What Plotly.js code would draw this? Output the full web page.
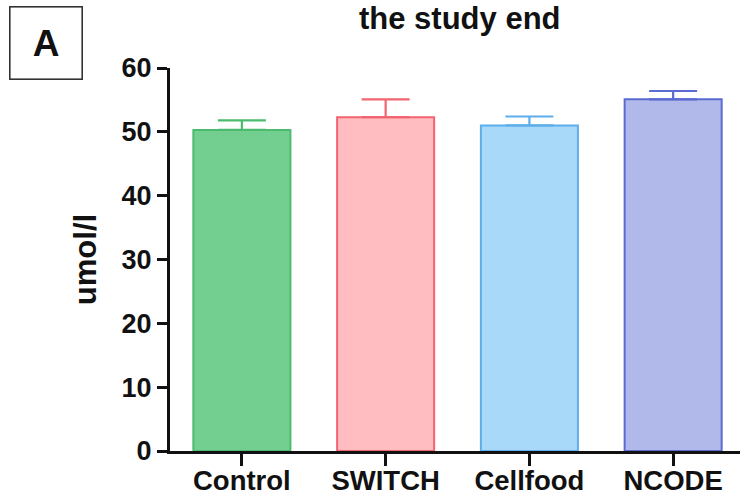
<!DOCTYPE html>
<html>
<head>
<meta charset="utf-8">
<script src="https://cdn.plot.ly/plotly-3.0.1.min.js"></script>
<style>html,body{margin:0;padding:0;background:#fff;}#chart{width:740px;height:498px;}</style>
</head>
<body>
<div id="chart"></div>
<script>
// Data
var categories = ["Control", "SWITCH", "Cellfood", "NCODE"];
var means = [50.3, 52.3, 51.0, 55.1];
var errors = [1.5, 2.8, 1.4, 1.3];
var yTickValues = [0, 10, 20, 30, 40, 50, 60];
var chartTitle = "the study end";

// Styles
var fillColors = ["#72cf8f", "#ffbdc2", "#a9d9f8", "#b1b9eb"];
var lineColors = ["#4dbb6f", "#f2646f", "#5daeea", "#5b6bd0"];
var FONT = "Liberation Sans, Arial, Helvetica, sans-serif";

var traces = categories.map(function (c, i) {
  return {
    type: "bar",
    x: [c],
    y: [means[i]],
    width: 0.675,
    marker: { color: fillColors[i], line: { color: lineColors[i], width: 2 } },
    error_y: {
      type: "data", symmetric: false,
      array: [errors[i]], arrayminus: [0],
      color: lineColors[i], thickness: 2.2, width: 24
    },
    hoverinfo: "skip",
    showlegend: false
  };
});

var layout = {
  width: 740, height: 498,
  margin: { l: 170, r: 0, t: 68, b: 47, pad: 0 },
  paper_bgcolor: "#ffffff", plot_bgcolor: "#ffffff",
  barmode: "overlay",
  font: { family: FONT, color: "#111111" },
  xaxis: {
    type: "category",
    categoryorder: "array", categoryarray: categories,
    range: [-0.5, 3.465],
    showline: true, linecolor: "#111111", linewidth: 3,
    ticks: "outside", ticklen: 12, tickwidth: 3, tickcolor: "#111111",
    ticklabelstandoff: -9,
    showgrid: false, zeroline: false,
    tickfont: { family: FONT, size: 27.5, weight: "bold", color: "#111111" }
  },
  yaxis: {
    range: [0, 60],
    tickvals: yTickValues,
    ticktext: yTickValues.map(String),
    showline: true, linecolor: "#111111", linewidth: 3,
    ticks: "outside", ticklen: 10, tickwidth: 3, tickcolor: "#111111",
    showgrid: false, zeroline: false,
    tickfont: { family: FONT, size: 27, weight: "bold", color: "#111111" },
    title: {
      text: "umol/l",
      font: { family: FONT, size: 31, weight: "bold", color: "#111111" },
      standoff: 16
    }
  },
  annotations: [{
    text: chartTitle,
    xref: "paper", yref: "paper",
    x: 0.509, y: 1.1775, xanchor: "center", yanchor: "top",
    showarrow: false, borderpad: 0,
    font: { family: FONT, size: 31, weight: "bold", color: "#111111" }
  }, {
    text: "A",
    xref: "paper", yref: "paper",
    x: -0.2167, y: 1.064, xanchor: "center", yanchor: "middle",
    showarrow: false,
    width: 69, height: 69,
    borderpad: 1, borderwidth: 1.6, bordercolor: "#333333",
    font: { family: FONT, size: 37, weight: "bold", color: "#111111" }
  }]
};

Plotly.newPlot("chart", traces, layout, { displayModeBar: false, staticPlot: true });
</script>
</body>
</html>
